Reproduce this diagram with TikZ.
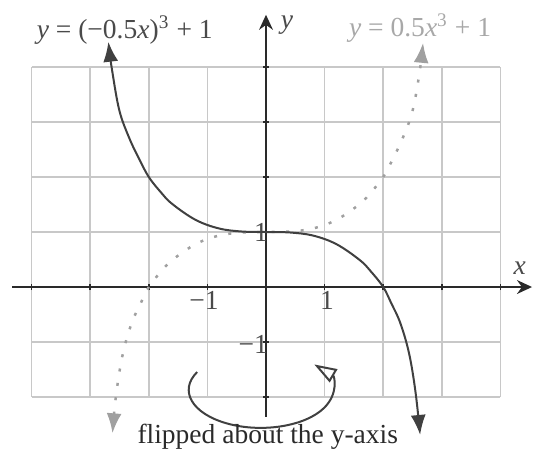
\documentclass[tikz,border=0pt]{standalone}
\usepackage{fontspec}
\setmainfont{Liberation Serif}
\usetikzlibrary{arrows.meta,calc}
\definecolor{gridc}{HTML}{C8C8C8}
\definecolor{axc}{HTML}{2A2A2A}
\definecolor{curvec}{HTML}{404040}
\definecolor{dotc}{HTML}{A0A0A0}
\definecolor{labdark}{HTML}{4A4A4A}
\definecolor{lablight}{HTML}{A8A8A8}
\begin{document}
\begin{tikzpicture}[x=23.44pt,y=22pt,
  gridline/.style={draw=gridc,line width=0.6pt},
  axisline/.style={draw=axc,line width=1pt},
  axtip/.style={-{Stealth[length=6pt,width=5.5pt]}},
  solidcurve/.style={draw=curvec,line width=0.8pt},
  curvetips/.style={{Latex[length=8pt,width=6pt]}-{Latex[length=8pt,width=6pt]}},
  dotcurve/.style={draw=dotc,line width=1pt,dash pattern=on 1.2pt off 4.6pt},
  lab/.style={font=\fontsize{11}{13}\selectfont, inner sep=0pt},
  ticklab/.style={lab, text=labdark},
  ]
\useasboundingbox (-4.539,-2.982) rectangle (4.573,5.218);
% grid
\draw[gridline, step={(1,1)}] (-4,-2) grid (4,4);
% axes
\coordinate (xl) at (-4.33,0);
\coordinate (xr) at (4.54,0);
\coordinate (yb) at (0,-2.36);
\coordinate (yt) at (0,4.95);
\draw[axisline, axtip] (xl) -- (xr);
\draw[axisline, axtip] (yb) -- (yt);
\foreach \i in {-4,...,4} \draw[axc, line width=0.6pt] (\i,-1.2pt) -- (\i,1.2pt);
\foreach \j in {-2,...,4} \draw[axc, line width=0.6pt] (-1.2pt,\j) -- (1.2pt,\j);
\node[lab, text=labdark, font=\fontsize{11}{13}\selectfont\itshape] (xlab) at (4.33,0.35) {x};
\node[lab, text=labdark, font=\fontsize{11}{13}\selectfont\itshape] (ylab) at (0.36,4.76) {y};
% tick labels
\node[ticklab] (tm1) at (-1.06,-0.24) {−1};
\node[ticklab] (tp1) at (1.04,-0.24) {1};
\node[ticklab, anchor=east] (ym1) at (0.04,-1.05) {−1};
\node[ticklab, anchor=east] (yp1) at (0.04,1.0) {1};
% dotted reflected curve
\draw[dotcurve, curvetips, dotc] plot[smooth, tension=0.6] coordinates {
 (-2.62,-2.66) (-2.55,-1.9) (-2.44,-1.2) (-2.29,-0.65) (-2.14,-0.3) (-2,0) (-1.8,0.27) (-1.6,0.49) (-1.2,0.78) (-0.8,0.936) (-0.4,0.992) (0,1)
 (0.4,1.008) (0.8,1.064) (1.2,1.22) (1.6,1.51) (1.8,1.73) (2.0,2.0) (2.16,2.32) (2.33,2.7) (2.5,3.2) (2.62,3.9) (2.68,4.44)};
% solid curve
\draw[solidcurve, curvetips, curvec] plot[smooth, tension=0.6] coordinates {
 (-2.69,4.46) (-2.62,3.9) (-2.5,3.2) (-2.33,2.7) (-2.16,2.32) (-2.0,2.0) (-1.8,1.73) (-1.6,1.51) (-1.2,1.22) (-0.8,1.064) (-0.4,1.008) (0,1)
 (0.4,0.992) (0.8,0.936) (1.2,0.78) (1.6,0.49) (1.8,0.27) (2,0) (2.14,-0.3) (2.29,-0.65) (2.44,-1.2) (2.55,-1.9) (2.63,-2.69)};
% equation labels
\node[lab, text=labdark] (eqa) at (-2.41,4.67) {\textit{y} = (−0.5\textit{x})\textsuperscript{3} + 1};
\node[lab, text=lablight] (eqb) at (2.63,4.71) {\textit{y} = 0.5\textit{x}\textsuperscript{3} + 1};
% flip arrow
\coordinate (rc) at (-0.09,-1.87);
\draw[draw=curvec, line width=0.8pt, -{Triangle[open,length=9pt,width=6pt]}]
  ([shift={(152:28.8pt and 15.2pt)}]rc) arc[start angle=152, end angle=402, x radius=28.8pt, y radius=15.2pt];
\node[lab, text=axc] (cap) at (0.03,-2.73) {flipped about the y-axis};
\end{tikzpicture}
\end{document}
